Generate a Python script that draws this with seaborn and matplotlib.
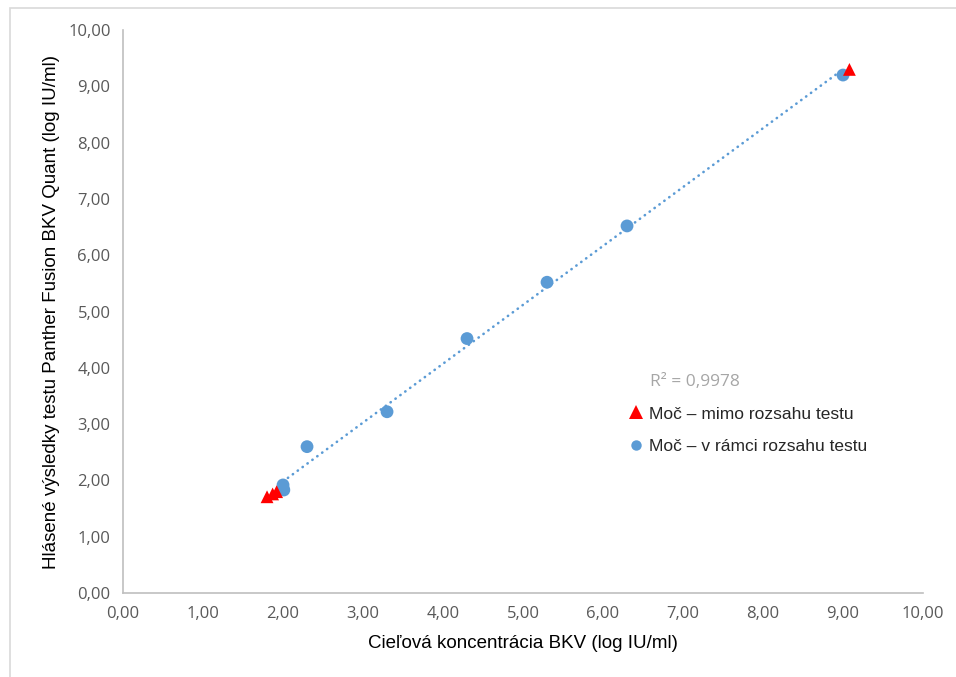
import numpy as np
import pandas as pd
import matplotlib
matplotlib.use("Agg")
import matplotlib.pyplot as plt
import seaborn as sns
from matplotlib.patches import Rectangle
from matplotlib.lines import Line2D

# Reported vs. target BKV concentration (log IU/ml)
out_x = [1.80, 1.87, 1.92, 9.08]
out_y = [1.71, 1.76, 1.80, 9.30]
in_x = [2.00, 2.00, 2.01, 2.30, 3.30, 4.30, 5.30, 6.30, 9.00]
in_y = [1.92, 1.86, 1.83, 2.60, 3.22, 4.52, 5.52, 6.52, 9.20]

label_out = "Moč – mimo rozsahu testu"
label_in = "Moč – v rámci rozsahu testu"
r2_text = "R² = 0,9978"
x_label = "Cieľová koncentrácia BKV (log IU/ml)"
y_label = "Hlásené výsledky testu Panther Fusion BKV Quant (log IU/ml)"
tick_values = [0, 1, 2, 3, 4, 5, 6, 7, 8, 9, 10]
tick_labels = [f"{v:.2f}".replace(".", ",") for v in tick_values]

RED = "#ff0000"
BLUE = "#5b9bd5"
TICK_GRAY = "#595959"
SPINE_GRAY = "#bfbfbf"
TICK_FONT = ["Open Sans", "DejaVu Sans"]

df = pd.DataFrame({
    "x": in_x + out_x,
    "y": in_y + out_y,
    "grp": [label_in] * len(in_x) + [label_out] * len(out_x),
})

sns.set_style("white")
plt.rcParams["font.family"] = ["Liberation Sans", "DejaVu Sans"]

fig = plt.figure(figsize=(9.56, 6.77), dpi=100)
ax = fig.add_axes([0.1287, 0.124, 0.8368, 0.8317])

# outer chart-area border
fig.patches.append(Rectangle((10 / 956, -0.1), 1.2, 1 - 8 / 677 + 0.1,
                             transform=fig.transFigure, fill=False,
                             edgecolor="#d9d9d9", linewidth=1.2, zorder=0))

# linear trend over in-range samples
slope, intercept = np.polyfit(in_x, in_y, 1)
xs = np.array([min(in_x), max(in_x)])
ax.plot(xs, slope * xs + intercept, color=BLUE, linewidth=1.9,
        linestyle=(0, (0.1, 2.2)), dash_capstyle="round", zorder=1)

sns.scatterplot(data=df, x="x", y="y", hue="grp", style="grp",
                hue_order=[label_out, label_in], style_order=[label_out, label_in],
                palette={label_out: RED, label_in: BLUE},
                markers={label_out: "^", label_in: "o"},
                s=85, linewidth=0, ax=ax, legend=False, zorder=3)

ax.set_xlim(0, 10)
ax.set_ylim(0, 10)
ax.set_xticks(tick_values)
ax.set_yticks(tick_values)
ax.set_xticklabels(tick_labels, family=TICK_FONT, fontsize=12, color=TICK_GRAY)
ax.set_yticklabels(tick_labels, family=TICK_FONT, fontsize=12, color=TICK_GRAY)
ax.tick_params(axis="x", length=0, pad=9)
ax.tick_params(axis="y", length=0, pad=9)

for side in ["top", "right"]:
    ax.spines[side].set_visible(False)
for side in ["left", "bottom"]:
    ax.spines[side].set_color(SPINE_GRAY)
    ax.spines[side].set_linewidth(1.2)

ax.set_xlabel(x_label, fontsize=13.5, color="#000000", labelpad=10)
ax.set_ylabel(y_label, fontsize=13.5, color="#000000", labelpad=6)

ax.text(6.59, 3.75, r2_text, family=TICK_FONT, fontsize=12.5,
        color="#a6a6a6", ha="left", va="center")

handles = [
    Line2D([], [], marker="^", color="none", markerfacecolor=RED,
           markeredgewidth=0, markersize=10, label=label_out),
    Line2D([], [], marker="o", color="none", markerfacecolor=BLUE,
           markeredgewidth=0, markersize=7.5, label=label_in),
]
ax.legend(handles=handles, loc="center left", bbox_to_anchor=(0.632, 0.2895),
          frameon=False, fontsize=12.5, handlelength=0.8, handletextpad=0.4,
          labelspacing=0.98, borderaxespad=0, borderpad=0)

fig.savefig("out.png", dpi=100)
